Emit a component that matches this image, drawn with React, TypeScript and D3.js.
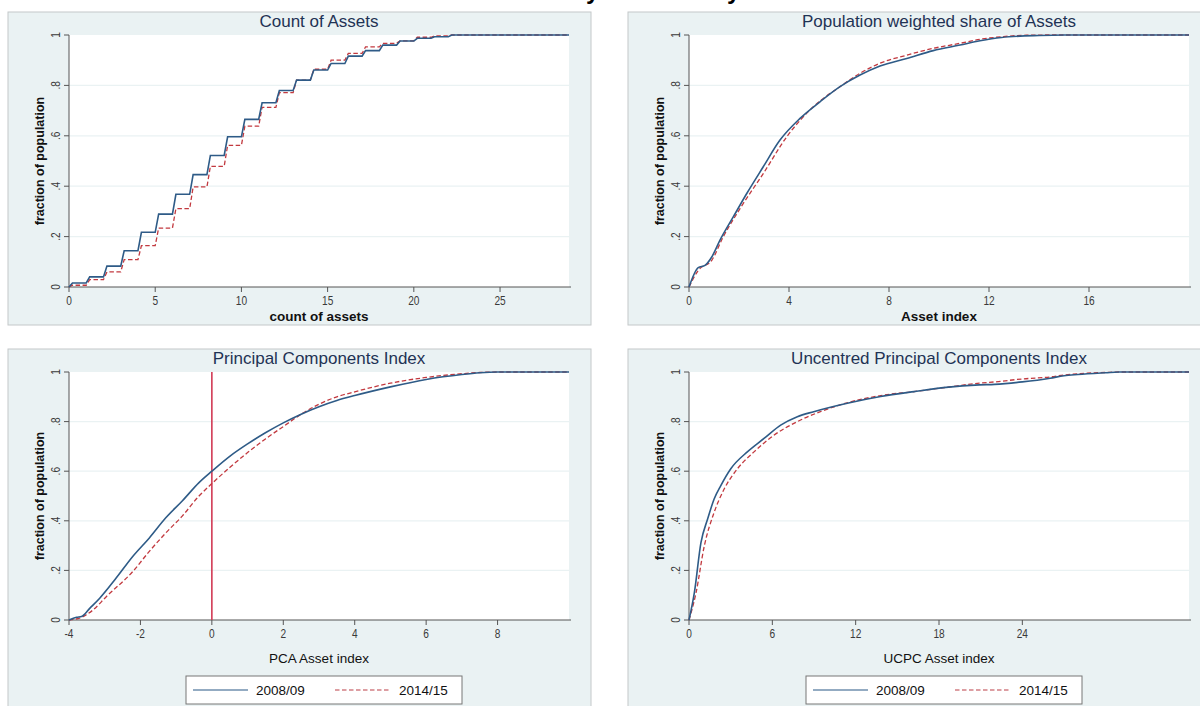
import React from "react";
import * as d3 from "d3";

// ---- data ----
// count of assets: cumulative share of population at each count
const assetCounts = [0, 1, 2, 3, 4, 5, 6, 7, 8, 9, 10, 11, 12, 13, 14, 15, 16, 17, 18, 19, 20, 21, 22];
const countShare0809 = [0.016, 0.04, 0.083, 0.144, 0.217, 0.289, 0.368, 0.446, 0.522, 0.596, 0.665, 0.731, 0.78, 0.821, 0.861, 0.887, 0.916, 0.938, 0.96, 0.976, 0.987, 0.993, 1.0];
const countShare1415 = [0.007, 0.029, 0.06, 0.109, 0.164, 0.234, 0.311, 0.397, 0.479, 0.562, 0.638, 0.713, 0.771, 0.821, 0.864, 0.9, 0.927, 0.953, 0.967, 0.977, 0.991, 0.996, 1.0];

// population weighted share of assets
const wIndex0809 = [0, 0.37, 0.64, 0.91, 1.24, 1.77, 2.31, 2.97, 3.64, 4.44, 5.24, 6.04, 6.84, 7.64, 8.71, 9.77, 10.84, 11.64, 12.5, 14, 15, 20];
const wShare0809 = [0, 0.077, 0.086, 0.119, 0.186, 0.278, 0.371, 0.477, 0.583, 0.669, 0.735, 0.795, 0.841, 0.877, 0.907, 0.938, 0.96, 0.977, 0.99, 0.998, 1, 1];
const wIndex1415 = [0, 0.37, 0.91, 1.37, 2.04, 2.97, 3.91, 4.97, 6.04, 6.84, 7.64, 8.71, 9.77, 10.84, 11.64, 12.5, 13.5, 14.5, 20];
const wShare1415 = [0, 0.066, 0.106, 0.199, 0.311, 0.45, 0.596, 0.715, 0.795, 0.848, 0.888, 0.92, 0.947, 0.967, 0.983, 0.993, 0.999, 1, 1];

// principal components index
const pcaIndex0809 = [-4, -3.79, -3.65, -3.42, -3.14, -2.68, -2.21, -1.75, -1.29, -0.83, -0.36, 0, 0.5, 1, 1.5, 2, 2.5, 3, 3.5, 4, 5, 6, 7, 7.5, 8, 10];
const pcaShare0809 = [0, 0.011, 0.014, 0.047, 0.088, 0.169, 0.257, 0.331, 0.412, 0.48, 0.554, 0.6, 0.66, 0.71, 0.755, 0.795, 0.83, 0.86, 0.885, 0.905, 0.94, 0.97, 0.99, 0.997, 1, 1];
const pcaIndex1415 = [-4, -3.65, -3.33, -2.95, -2.21, -1.75, -1.29, -0.83, -0.36, 0, 0.5, 1, 1.5, 2, 2.5, 3, 3.5, 4, 5, 6, 7, 7.5, 8, 10];
const pcaShare1415 = [0, 0.011, 0.04, 0.095, 0.196, 0.277, 0.351, 0.419, 0.5, 0.55, 0.615, 0.675, 0.73, 0.78, 0.83, 0.87, 0.9, 0.92, 0.955, 0.978, 0.993, 0.998, 1, 1];

// uncentred principal components index
const ucIndex0809 = [0, 0.38, 0.86, 1.34, 1.81, 2.29, 3.01, 4.2, 5.4, 6.6, 7.8, 8.98, 11.4, 13.8, 16.2, 18.5, 20.9, 22, 24, 26, 27, 28, 30, 31, 36];
const ucShare0809 = [0, 0.108, 0.312, 0.407, 0.488, 0.542, 0.61, 0.678, 0.732, 0.786, 0.82, 0.84, 0.874, 0.901, 0.921, 0.938, 0.948, 0.95, 0.96, 0.975, 0.985, 0.99, 0.997, 1, 1];
const ucIndex1415 = [0, 0.5, 1.1, 1.81, 2.53, 3.49, 4.68, 6.11, 7.8, 9.46, 11.4, 13.8, 16.2, 18.5, 20.9, 22, 24, 26, 27, 28, 30, 31, 36];
const ucShare1415 = [0, 0.108, 0.298, 0.434, 0.528, 0.61, 0.678, 0.745, 0.8, 0.84, 0.876, 0.905, 0.921, 0.938, 0.955, 0.96, 0.972, 0.98, 0.988, 0.993, 0.998, 1, 1];

const yTicks = [0, 0.2, 0.4, 0.6, 0.8, 1];
const yTickLabels = ["0", ".2", ".4", ".6", ".8", "1"];
const years = ["2008/09", "2014/15"];

const BLUE = "#2e5b87";
const RED = "#c2393f";
const PANEL_BG = "#eaf2f3";
const FONT = "'Liberation Sans', Arial, sans-serif";

type Pt = [number, number];

const zipPts = (xs: number[], ys: number[]): Pt[] => xs.map((v, i) => [v, ys[i]] as Pt);

// stairstep with a small slanted riser like the original
function stepPts(counts: number[], shares: number[], xMax: number): Pt[] {
  const pts: Pt[] = [[0, 0]];
  let prev = 0;
  counts.forEach((c, i) => {
    pts.push([c, prev]);
    pts.push([c + 0.2, shares[i]]);
    prev = shares[i];
  });
  pts.push([xMax, prev]);
  return pts;
}

// condensed tick label (stata-like narrow font)
function TickLabel({ x, y, rotate, children }: any) {
  return (
    <text
      transform={`translate(${x},${y})${rotate ? " rotate(-90)" : ""} scale(0.75,1)`}
      textAnchor="middle"
      fontFamily={FONT}
      fontSize={13.5}
      fill="#3a3a3a"
    >
      {children}
    </text>
  );
}

function Panel(props: any) {
  const { px, py, bottomOff, title, xDomain, xTicks, xTitle, xTitleBold, blue, red, steps, vline, legend } = props;
  const left = px + 61, right = px + 561, top = py + 23, bottom = py + bottomOff;
  const x = d3.scaleLinear().domain(xDomain).range([left, right]);
  const y = d3.scaleLinear().domain([0, 1]).range([bottom, top]);
  const line = d3
    .line<Pt>()
    .x((d) => x(d[0]))
    .y((d) => y(d[1]))
    .curve(steps ? d3.curveLinear : d3.curveMonotoneX);

  const panelH = legend ? 380 : 313;
  const lx = px + 178, ly = bottom + 56;

  return (
    <g>
      <rect x={px} y={py} width={583} height={panelH} fill={PANEL_BG} stroke="#c4c8c9" strokeWidth={1} />
      <text x={(left + right) / 2} y={py + 15} textAnchor="middle" fontFamily={FONT} fontSize={17} fill="#1f3355">
        {title}
      </text>
      <rect x={left} y={top} width={right - left} height={bottom - top} fill="#fff" />
      {/* grid */}
      {yTicks.slice(1, 5).map((t) => (
        <line key={t} x1={left} x2={right} y1={y(t)} y2={y(t)} stroke={PANEL_BG} strokeWidth={1.2} />
      ))}
      {/* y axis */}
      <line x1={left} x2={left} y1={top} y2={bottom} stroke="#555" strokeWidth={1} />
      {yTicks.map((t, i) => (
        <g key={t}>
          <line x1={left - 5} x2={left} y1={y(t)} y2={y(t)} stroke="#555" />
          <TickLabel x={left - 9} y={y(t)} rotate>
            {yTickLabels[i]}
          </TickLabel>
        </g>
      ))}
      <text
        transform={`translate(${px + 36},${(top + bottom) / 2}) rotate(-90)`}
        textAnchor="middle"
        fontFamily={FONT}
        fontWeight="bold"
        fontSize={12.5}
        fill="#111"
      >
        fraction of population
      </text>
      {/* x axis */}
      <line x1={left} x2={right + 2} y1={bottom} y2={bottom} stroke="#555" strokeWidth={1} />
      {xTicks.map((t: number) => (
        <g key={t}>
          <line x1={x(t)} x2={x(t)} y1={bottom} y2={bottom + 5} stroke="#555" />
          <TickLabel x={x(t)} y={bottom + 18}>
            {t}
          </TickLabel>
        </g>
      ))}
      <text
        x={(left + right) / 2}
        y={legend ? bottom + 43 : bottom + 34}
        textAnchor="middle"
        fontFamily={FONT}
        fontWeight={xTitleBold ? "bold" : "normal"}
        fontSize={13.5}
        fill="#111"
      >
        {xTitle}
      </text>
      {vline !== undefined && (
        <line x1={x(vline)} x2={x(vline)} y1={top} y2={bottom} stroke="#d23a55" strokeWidth={1.6} />
      )}
      <path d={line(red) || ""} fill="none" stroke={RED} strokeWidth={1.3} strokeDasharray="4.5,2.5" />
      <path d={line(blue) || ""} fill="none" stroke={BLUE} strokeWidth={1.6} />
      {legend && (
        <g>
          <rect x={lx} y={ly} width={276} height={28} fill="#fff" stroke="#777" strokeWidth={1} />
          <line x1={lx + 7} x2={lx + 62} y1={ly + 14} y2={ly + 14} stroke="#6f8fae" strokeWidth={1.6} />
          <text x={lx + 70} y={ly + 19} fontFamily={FONT} fontSize={13.5} fill="#111">
            {years[0]}
          </text>
          <line x1={lx + 149} x2={lx + 204} y1={ly + 14} y2={ly + 14} stroke="#d27f84" strokeWidth={1.3} strokeDasharray="4.5,2.5" />
          <text x={lx + 213} y={ly + 19} fontFamily={FONT} fontSize={13.5} fill="#111">
            {years[1]}
          </text>
        </g>
      )}
    </g>
  );
}

export default function App() {
  return (
    <svg width={1200} height={706} style={{ position: "absolute", left: 0, top: 0, background: "#fff" }}>
      {/* overall title, cut off at the top of the image */}
      <text x={586} y={-1} fontFamily={FONT} fontWeight="bold" fontSize={24} fill="#000">y</text>
      <text x={727} y={-1} fontFamily={FONT} fontWeight="bold" fontSize={24} fill="#000">y</text>
      <Panel
        px={8}
        py={12}
        bottomOff={275}
        title="Count of Assets"
        xDomain={[0, 29]}
        xTicks={[0, 5, 10, 15, 20, 25]}
        xTitle="count of assets"
        xTitleBold
        steps
        blue={stepPts(assetCounts, countShare0809, 29)}
        red={stepPts(assetCounts, countShare1415, 29)}
      />
      <Panel
        px={628}
        py={12}
        bottomOff={275}
        title="Population weighted share of Assets"
        xDomain={[0, 20]}
        xTicks={[0, 4, 8, 12, 16]}
        xTitle="Asset index"
        xTitleBold
        blue={zipPts(wIndex0809, wShare0809)}
        red={zipPts(wIndex1415, wShare1415)}
      />
      <Panel
        px={8}
        py={349}
        bottomOff={271}
        title="Principal Components Index"
        xDomain={[-4, 10]}
        xTicks={[-4, -2, 0, 2, 4, 6, 8]}
        xTitle="PCA Asset index"
        vline={0}
        legend
        blue={zipPts(pcaIndex0809, pcaShare0809)}
        red={zipPts(pcaIndex1415, pcaShare1415)}
      />
      <Panel
        px={628}
        py={349}
        bottomOff={271}
        title="Uncentred Principal Components Index"
        xDomain={[0, 36]}
        xTicks={[0, 6, 12, 18, 24]}
        xTitle="UCPC Asset index"
        legend
        blue={zipPts(ucIndex0809, ucShare0809)}
        red={zipPts(ucIndex1415, ucShare1415)}
      />
    </svg>
  );
}
